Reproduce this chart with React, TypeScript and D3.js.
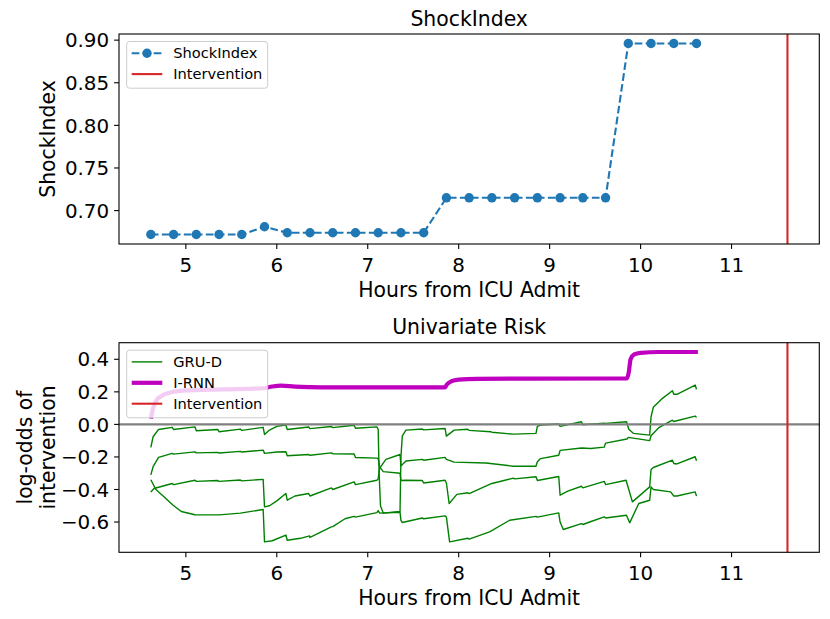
import React, { useEffect, useRef } from 'react';
import * as d3 from 'd3';

const WIDTH = 830;
const HEIGHT = 619;
const FONT = '"DejaVu Sans", Verdana, sans-serif';
const TICK_FS = 19.9;
const LABEL_FS = 20.4;
const LEGEND_FS = 14.6;

// observation times (hours from ICU admit) and ShockIndex readings
const shockHours = [
  4.615, 4.865, 5.115, 5.365, 5.615, 5.865, 6.115, 6.365, 6.615, 6.865, 7.115, 7.365, 7.615,
  7.865, 8.115, 8.365, 8.615, 8.865, 9.115, 9.365, 9.615, 9.865, 10.115, 10.365, 10.615,
];
const shockValues = [
  0.672, 0.672, 0.672, 0.672, 0.672, 0.681, 0.674, 0.674, 0.674, 0.674, 0.674, 0.674, 0.674,
  0.715, 0.715, 0.715, 0.715, 0.715, 0.715, 0.715, 0.715, 0.896, 0.896, 0.896, 0.896,
];
const interventionHour = 11.615;

const xTicks = [5, 6, 7, 8, 9, 10, 11];
const shockTicks = [0.7, 0.75, 0.8, 0.85, 0.9];
const riskTicks = [-0.6, -0.4, -0.2, 0, 0.2, 0.4];

// GRU-D samples, [hour, log-odds]
const gruA: [number, number][] = [
  [4.615, -0.141], [4.64, -0.076], [4.7, -0.031], [4.85, -0.018], [4.865, -0.031], [5.1, -0.015],
  [5.115, -0.039], [5.35, -0.031], [5.365, -0.045], [5.6, -0.029], [5.615, -0.037], [5.85, -0.018],
  [5.865, -0.062], [5.92, -0.035], [6.0, -0.012], [6.1, -0.004], [6.115, -0.031], [6.35, -0.016],
  [6.365, -0.026], [6.6, -0.013], [6.615, -0.02], [6.85, -0.005], [6.865, -0.024], [7.1, -0.015],
  [7.115, -0.03], [7.125, -0.3], [7.14, -0.5], [7.17, -0.545], [7.355, -0.535], [7.365, -0.2],
  [7.38, -0.07], [7.42, -0.035], [7.6, -0.028], [7.615, -0.034], [7.85, -0.025], [7.865, -0.072],
  [7.95, -0.035], [8.1, -0.03], [8.115, -0.037], [8.35, -0.045], [8.365, -0.048], [8.6, -0.06],
  [8.615, -0.06], [8.85, -0.055], [8.865, -0.012], [8.9, -0.004], [9.1, 0.002], [9.115, -0.012],
  [9.35, 0.016], [9.365, -0.002], [9.6, 0.008], [9.615, 0.006], [9.845, 0.016], [9.87, -0.03],
  [9.92, -0.055], [10.1, -0.066], [10.115, 0.047], [10.14, 0.105], [10.23, 0.155], [10.35, 0.207],
  [10.365, 0.185], [10.4, 0.185], [10.6, 0.242], [10.615, 0.215],
];
const gruB: [number, number][] = [
  [4.615, -0.31], [4.64, -0.26], [4.7, -0.203], [4.85, -0.178], [4.865, -0.183], [5.1, -0.169],
  [5.115, -0.175], [5.35, -0.172], [5.365, -0.176], [5.6, -0.166], [5.615, -0.17], [5.85, -0.158],
  [5.865, -0.178], [6.0, -0.17], [6.1, -0.168], [6.115, -0.193], [6.35, -0.185], [6.365, -0.19],
  [6.6, -0.175], [6.615, -0.18], [6.85, -0.182], [6.865, -0.203], [7.1, -0.207], [7.115, -0.21],
  [7.13, -0.26], [7.17, -0.29], [7.355, -0.3], [7.365, -0.345], [7.42, -0.343], [7.6, -0.345],
  [7.615, -0.36], [7.85, -0.343], [7.865, -0.36], [7.895, -0.486], [7.98, -0.43], [8.1, -0.42],
  [8.115, -0.425], [8.365, -0.363], [8.6, -0.33], [8.615, -0.335], [8.85, -0.322], [8.865, -0.345],
  [9.1, -0.32], [9.115, -0.435], [9.2, -0.41], [9.35, -0.38], [9.365, -0.39], [9.6, -0.35],
  [9.615, -0.37], [9.84, -0.343], [9.87, -0.4], [9.91, -0.476], [10.1, -0.384], [10.115, -0.277],
  [10.14, -0.265], [10.35, -0.22], [10.365, -0.24], [10.4, -0.243], [10.6, -0.199], [10.615, -0.224],
];
const gruC: [number, number][] = [
  [4.615, -0.415], [4.65, -0.394], [4.85, -0.363], [4.865, -0.37], [5.1, -0.343], [5.115, -0.35],
  [5.35, -0.345], [5.365, -0.35], [5.6, -0.342], [5.615, -0.347], [5.85, -0.338], [5.865, -0.507],
  [5.92, -0.5], [6.0, -0.47], [6.1, -0.425], [6.115, -0.466], [6.2, -0.44], [6.35, -0.425],
  [6.365, -0.44], [6.6, -0.39], [6.615, -0.4], [6.85, -0.353], [6.865, -0.37], [7.1, -0.343],
  [7.115, -0.335], [7.13, -0.27], [7.2, -0.215], [7.355, -0.185], [7.365, -0.255], [7.42, -0.225],
  [7.6, -0.215], [7.615, -0.22], [7.85, -0.203], [7.865, -0.215], [7.95, -0.232], [8.3, -0.237],
  [8.6, -0.257], [8.85, -0.257], [8.865, -0.23], [8.9, -0.21], [9.1, -0.19], [9.115, -0.16],
  [9.35, -0.145], [9.45, -0.148], [9.6, -0.14], [9.615, -0.115], [9.85, -0.09], [9.865, -0.08],
  [10.1, -0.1], [10.115, -0.07], [10.2, -0.02], [10.35, 0.026], [10.365, 0.018], [10.6, 0.051],
  [10.615, 0.043],
];
const gruD: [number, number][] = [
  [4.615, -0.34], [4.67, -0.4], [4.75, -0.44], [4.86, -0.497], [4.95, -0.535], [5.1, -0.555],
  [5.365, -0.556], [5.6, -0.545], [5.85, -0.523], [5.865, -0.722], [5.95, -0.715], [6.1, -0.68],
  [6.115, -0.712], [6.26, -0.7], [6.36, -0.685], [6.365, -0.695], [6.6, -0.63], [6.615, -0.628],
  [6.75, -0.58], [6.85, -0.565], [6.865, -0.57], [7.1, -0.542], [7.115, -0.53], [7.13, -0.545],
  [7.355, -0.54], [7.365, -0.59], [7.38, -0.603], [7.6, -0.575], [7.615, -0.58], [7.85, -0.562],
  [7.865, -0.57], [7.9, -0.722], [8.1, -0.7], [8.115, -0.705], [8.34, -0.661], [8.56, -0.589],
  [8.85, -0.565], [8.865, -0.57], [9.1, -0.544], [9.115, -0.6], [9.15, -0.646], [9.35, -0.61],
  [9.365, -0.615], [9.44, -0.6], [9.6, -0.568], [9.615, -0.575], [9.845, -0.558], [9.88, -0.605],
  [9.98, -0.486], [10.1, -0.466], [10.115, -0.384], [10.14, -0.4], [10.33, -0.415], [10.365, -0.44],
  [10.4, -0.44], [10.6, -0.415], [10.615, -0.441],
];
const gruSeries = [gruA, gruB, gruC, gruD];

const irnn: [number, number][] = [
  [4.615, 0.035], [4.64, 0.1], [4.68, 0.15], [4.72, 0.17], [4.79, 0.19], [4.97, 0.207], [5.4, 0.215],
  [5.85, 0.222], [5.95, 0.233], [6.05, 0.238], [6.2, 0.232], [6.5, 0.228], [7.85, 0.228],
  [7.87, 0.245], [7.92, 0.265], [8.0, 0.275], [8.2, 0.28], [9.85, 0.283], [9.87, 0.32], [9.89, 0.4],
  [9.93, 0.43], [10.0, 0.44], [10.2, 0.445], [10.63, 0.445],
];

const LEFT = 119;
const RIGHT = 819.3;
const TOP_PANEL = { top: 34, bottom: 244 };
const BOTTOM_PANEL = { top: 342.7, bottom: 552.3 };

type G = d3.Selection<SVGGElement, unknown, null, undefined>;

function drawFrame(
  g: G,
  x: d3.ScaleLinear<number, number>,
  y: d3.ScaleLinear<number, number>,
  yTicks: number[],
  yFormat: (v: number) => string,
  title: string,
  yLabel: string[],
): void {
  const [top, bottom] = [y.range()[1], y.range()[0]];
  const cy = (top + bottom) / 2;

  // x ticks
  xTicks.forEach((t) => {
    g.append('line')
      .attr('x1', x(t)).attr('x2', x(t))
      .attr('y1', bottom).attr('y2', bottom + 4.9)
      .attr('stroke', '#000').attr('stroke-width', 1.1);
    g.append('text')
      .attr('x', x(t)).attr('y', bottom + 27.8)
      .attr('text-anchor', 'middle')
      .attr('font-size', TICK_FS)
      .text(String(t));
  });
  // y ticks
  yTicks.forEach((t) => {
    g.append('line')
      .attr('x1', LEFT - 4.9).attr('x2', LEFT)
      .attr('y1', y(t)).attr('y2', y(t))
      .attr('stroke', '#000').attr('stroke-width', 1.1);
    g.append('text')
      .attr('x', LEFT - 9.8).attr('y', y(t) + 7.2)
      .attr('text-anchor', 'end')
      .attr('font-size', TICK_FS)
      .text(yFormat(t));
  });

  g.append('text')
    .attr('x', (LEFT + RIGHT) / 2).attr('y', bottom + 53)
    .attr('text-anchor', 'middle').attr('font-size', LABEL_FS)
    .text('Hours from ICU Admit');
  g.append('text')
    .attr('x', (LEFT + RIGHT) / 2).attr('y', top - 8.3)
    .attr('text-anchor', 'middle').attr('font-size', LABEL_FS)
    .text(title);

  yLabel.forEach((line, i) => {
    const bx = 55 - (yLabel.length - 1 - i) * 23.5;
    g.append('text')
      .attr('transform', `translate(${bx},${cy}) rotate(-90)`)
      .attr('text-anchor', 'middle').attr('font-size', LABEL_FS)
      .text(line);
  });
}

function drawSpines(g: G, top: number, bottom: number): void {
  g.append('rect')
    .attr('x', LEFT).attr('y', top)
    .attr('width', RIGHT - LEFT).attr('height', bottom - top)
    .attr('fill', 'none').attr('stroke', '#000').attr('stroke-width', 1.1);
}

interface LegendItem {
  label: string;
  color: string;
  width: number;
  dashed?: boolean;
  marker?: boolean;
}

function drawLegend(g: G, top: number, items: LegendItem[]): void {
  const bx = LEFT + 7.7;
  const by = top + 7.5;
  const row = 20.9;
  const lg = g.append('g');
  lg.append('rect')
    .attr('x', bx).attr('y', by)
    .attr('width', 141).attr('height', items.length * row + 4.9)
    .attr('rx', 2.8)
    .attr('fill', '#fff').attr('fill-opacity', 0.8)
    .attr('stroke', '#cccccc').attr('stroke-width', 1);
  items.forEach((it, i) => {
    const ry = by + 11.7 + i * row;
    lg.append('line')
      .attr('x1', bx + 5).attr('x2', bx + 35.6)
      .attr('y1', ry).attr('y2', ry)
      .attr('stroke', it.color).attr('stroke-width', it.width)
      .attr('stroke-dasharray', it.dashed ? '7.7,3.3' : null);
    if (it.marker) {
      lg.append('circle')
        .attr('cx', bx + 20.3).attr('cy', ry).attr('r', 4.7)
        .attr('fill', it.color);
    }
    lg.append('text')
      .attr('x', bx + 46.6).attr('y', ry + 5.2)
      .attr('font-size', LEGEND_FS)
      .text(it.label);
  });
}

export default function App(): JSX.Element {
  const svgRef = useRef<SVGSVGElement>(null);

  useEffect(() => {
    const svg = d3.select(svgRef.current);
    svg.selectAll('*').remove();
    const root = svg.append('g').attr('font-family', FONT).attr('fill', '#000') as unknown as G;

    const x = d3.scaleLinear().domain([4.265, 11.965]).range([LEFT, RIGHT]);

    // ---- top panel: ShockIndex
    const yTop = d3.scaleLinear().domain([0.6608, 0.9072]).range([TOP_PANEL.bottom, TOP_PANEL.top]);
    const top = root.append('g');
    const shockLine = d3.line<number>()
      .x((_, i) => x(shockHours[i]))
      .y((d) => yTop(d));
    top.append('path')
      .attr('d', shockLine(shockValues) as string)
      .attr('fill', 'none').attr('stroke', '#1f77b4').attr('stroke-width', 2.1)
      .attr('stroke-dasharray', '7.7,3.3');
    top.selectAll('circle.pt')
      .data(shockValues)
      .enter()
      .append('circle')
      .attr('class', 'pt')
      .attr('cx', (_, i) => x(shockHours[i]))
      .attr('cy', (d) => yTop(d))
      .attr('r', 4.7)
      .attr('fill', '#1f77b4');
    top.append('line')
      .attr('x1', x(interventionHour)).attr('x2', x(interventionHour))
      .attr('y1', TOP_PANEL.top).attr('y2', TOP_PANEL.bottom)
      .attr('stroke', '#d62728').attr('stroke-width', 2.1);
    drawSpines(top, TOP_PANEL.top, TOP_PANEL.bottom);
    drawFrame(top, x, yTop, shockTicks, d3.format('.2f'), 'ShockIndex', ['ShockIndex']);
    drawLegend(top, TOP_PANEL.top, [
      { label: 'ShockIndex', color: '#1f77b4', width: 2.1, dashed: true, marker: true },
      { label: 'Intervention', color: '#d62728', width: 2.1 },
    ]);

    // ---- bottom panel: univariate risk
    const yBot = d3.scaleLinear().domain([-0.786, 0.502]).range([BOTTOM_PANEL.bottom, BOTTOM_PANEL.top]);
    const bot = root.append('g');
    const riskLine = d3.line<[number, number]>()
      .x((d) => x(d[0]))
      .y((d) => yBot(d[1]));
    gruSeries.forEach((s) => {
      bot.append('path')
        .attr('d', riskLine(s) as string)
        .attr('fill', 'none').attr('stroke', '#008000').attr('stroke-width', 1.4)
        .attr('stroke-linejoin', 'round');
    });
    bot.append('path')
      .attr('d', riskLine.curve(d3.curveMonotoneX)(irnn) as string)
      .attr('fill', 'none').attr('stroke', '#bf00bf').attr('stroke-width', 4.2)
      .attr('stroke-linejoin', 'round');
    bot.append('line')
      .attr('x1', LEFT).attr('x2', RIGHT)
      .attr('y1', yBot(0)).attr('y2', yBot(0))
      .attr('stroke', '#808080').attr('stroke-width', 2.1);
    bot.append('line')
      .attr('x1', x(interventionHour)).attr('x2', x(interventionHour))
      .attr('y1', BOTTOM_PANEL.top).attr('y2', BOTTOM_PANEL.bottom)
      .attr('stroke', '#d62728').attr('stroke-width', 2.1);
    drawSpines(bot, BOTTOM_PANEL.top, BOTTOM_PANEL.bottom);
    const minus = (v: number) => d3.format('.1f')(v).replace('-', '\u2212');
    drawFrame(bot, x, yBot, riskTicks, minus, 'Univariate Risk', ['log-odds of', 'intervention']);
    drawLegend(bot, BOTTOM_PANEL.top, [
      { label: 'GRU-D', color: '#008000', width: 1.4 },
      { label: 'I-RNN', color: '#bf00bf', width: 4.2 },
      { label: 'Intervention', color: '#d62728', width: 2.1 },
    ]);
  }, []);

  return (
    <svg
      ref={svgRef}
      width={WIDTH}
      height={HEIGHT}
      style={{ position: 'absolute', left: 0, top: 0, background: '#fff' }}
    />
  );
}
